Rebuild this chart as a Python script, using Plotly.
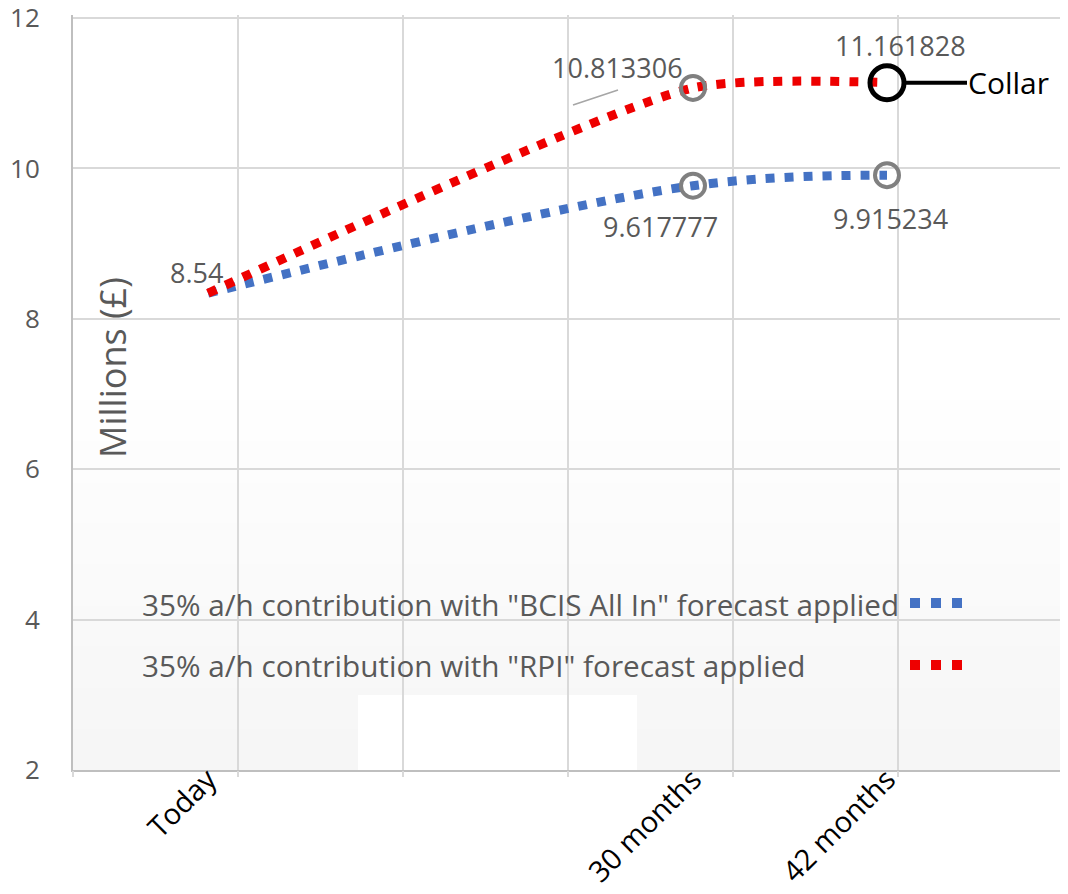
import plotly.graph_objects as go

# ---------------- data ----------------
months = [0, 30, 42]
tick_labels = ["Today", "30 months", "42 months"]
bcis_values = [8.34, 9.77, 9.91]
rpi_values = [8.34, 11.07, 11.14]
bcis_labels = ["", "9.617777", "9.915234"]
rpi_labels = ["8.54", "10.813306", "11.161828"]
bcis_name = '35% a/h contribution with "BCIS All In" forecast applied'
rpi_name = '35% a/h contribution with "RPI" forecast applied'

BLUE = "#4472C4"
RED = "#EE0000"
GREY_TXT = "#595959"
GRID = "#d9d9d9"
FONT = "Open Sans"

# page body has an 8px margin; work in screen pixels and convert
OFF = 8
W, H = 1068 - OFF, 894 - OFF
SL, SR, ST, SB = 73, 1066, 15, 770          # plot area edges on screen
PW = SR - SL
PH = SB - ST
L = SL - OFF
T = ST - OFF
R = W - (SR - OFF)
B = H - (SB - OFF)


def px_x(sx):
    return (sx - SL) / PW


def px_y(sy):
    return (SB - sy) / PH


fig = go.Figure()

# invisible trace that carries the category grid axis
fig.add_trace(go.Scatter(x=[], y=[], xaxis="x2", yaxis="y", showlegend=False, hoverinfo="skip"))

fig.add_trace(go.Scatter(
    x=months, y=bcis_values, mode="lines", name=bcis_name, showlegend=False,
    line=dict(color=BLUE, width=9, dash="9px,10px", shape="spline", smoothing=1.0),
))
fig.add_trace(go.Scatter(
    x=months, y=rpi_values, mode="lines", name=rpi_name, showlegend=False,
    line=dict(color=RED, width=9, dash="9px,10px", shape="spline", smoothing=0.6),
))
# highlight rings
fig.add_trace(go.Scatter(
    x=months[1:], y=bcis_values[1:], mode="markers", showlegend=False, hoverinfo="skip",
    marker=dict(symbol="circle-open", size=[24, 24], color="#808080", opacity=1,
                line=dict(width=4, color="#808080")),
))
fig.add_trace(go.Scatter(
    x=months[1:], y=rpi_values[1:], mode="markers", showlegend=False, hoverinfo="skip",
    marker=dict(symbol="circle-open", size=[24, 34], color=["#808080", "#000000"], opacity=1,
                line=dict(width=[4, 5], color=["#808080", "#000000"])),
))

annotations = []
# data labels (offsets in px)
rpi_off = [(-12, 21), (-76, 20), (13, 37)]
bcis_off = [(0, 0), (-33, -41), (3, -43)]
for xv, yv, txt, (dx, dy) in zip(months, rpi_values, rpi_labels, rpi_off):
    if txt:
        annotations.append(dict(x=xv, y=yv, xref="x", yref="y", text=txt, showarrow=False,
                                xshift=dx, yshift=dy, font=dict(family=FONT, size=27, color=GREY_TXT)))
for xv, yv, txt, (dx, dy) in zip(months, bcis_values, bcis_labels, bcis_off):
    if txt:
        annotations.append(dict(x=xv, y=yv, xref="x", yref="y", text=txt, showarrow=False,
                                xshift=dx, yshift=dy, font=dict(family=FONT, size=27, color=GREY_TXT)))

# Collar callout
annotations.append(dict(x=months[2], y=rpi_values[2], xref="x", yref="y", text="Collar",
                        showarrow=True, arrowhead=0, arrowwidth=4, arrowcolor="#000000",
                        ax=121, ay=0, standoff=19, borderpad=0,
                        font=dict(family=FONT, size=30, color="#000000")))

# y-axis title inside the plot
annotations.append(dict(x=px_x(112), y=px_y(368), xref="paper", yref="paper", text="Millions (£)",
                        textangle=-90, showarrow=False, xanchor="center", yanchor="middle",
                        font=dict(family=FONT, size=36, color=GREY_TXT)))

# custom legend (text left, symbol right)
for name, ypx in [(bcis_name, 604), (rpi_name, 665)]:
    annotations.append(dict(x=px_x(140), y=px_y(ypx), xref="paper", yref="paper", text=name,
                            xanchor="left", yanchor="middle", showarrow=False,
                            font=dict(family=FONT, size=29.7, color=GREY_TXT)))

shapes = []
# soft background gradient in lower part of plot
bands = ["#fefefe", "#fdfdfd", "#fcfcfc", "#fbfbfb", "#fafafa", "#f9f9f9", "#f8f8f8", "#f7f7f7", "#f6f6f6"]
n = len(bands)
top_px, bot_px = 400, 770
for i, c in enumerate(bands):
    y0 = top_px + (bot_px - top_px) * i / n
    shapes.append(dict(type="rect", xref="paper", yref="paper", x0=0, x1=1,
                       y0=px_y(y0), y1=px_y(bot_px), fillcolor=c, line=dict(width=0), layer="below"))
shapes.append(dict(type="rect", xref="paper", yref="paper", x0=px_x(358), x1=px_x(637),
                   y0=px_y(770), y1=px_y(695), fillcolor="#ffffff", line=dict(width=0), layer="below"))
# leader line of the 10.813306 label
shapes.append(dict(type="line", xref="paper", yref="paper", x0=px_x(573), y0=px_y(105),
                   x1=px_x(618), y1=px_y(90), line=dict(color="#a6a6a6", width=1.5), layer="below"))
# legend symbols
for col, ypx in [(BLUE, 603), (RED, 665)]:
    shapes.append(dict(type="line", xref="paper", yref="paper", x0=px_x(910), x1=px_x(965),
                       y0=px_y(ypx), y1=px_y(ypx), line=dict(color=col, width=10, dash="10px,11px")))

# x range so that Today -> 208px and 30 months -> 693px on screen
ppm = (693 - 208) / 30.0
x0 = -(208 - SL) / ppm
x1 = x0 + PW / ppm
grid_cell = (1063 - SL) / 6.0          # category grid spacing in px
ppu = (SB - 18) / 10.0                 # px per million (2 -> 770, 12 -> 18)

fig.update_layout(
    width=W, height=H,
    margin=dict(l=L, r=R, t=T, b=B, pad=0),
    paper_bgcolor="#ffffff", plot_bgcolor="#ffffff",
    showlegend=False,
    font=dict(family=FONT, color=GREY_TXT),
    xaxis=dict(range=[x0, x1], tickmode="array", tickvals=months, ticktext=tick_labels,
               tickangle=-45, showgrid=False, zeroline=False, showline=True, automargin=False,
               linecolor="#bfbfbf", linewidth=2, ticks="", ticklabelstandoff=-21,
               ticklabeloverflow="allow",
               tickfont=dict(family=FONT, size=29, color="#000000")),
    xaxis2=dict(range=[0, PW / grid_cell], dtick=1, tick0=0, overlaying="x", anchor="y",
                side="bottom", showgrid=True, gridcolor=GRID, gridwidth=2, showticklabels=False,
                automargin=False, ticks="outside", ticklen=6, tickcolor=GRID, tickwidth=2,
                zeroline=False, showline=False),
    yaxis=dict(range=[2, 2 + PH / ppu], dtick=2, tick0=2, showgrid=True, gridcolor=GRID,
               gridwidth=2, zeroline=False, showline=True, linecolor="#bfbfbf", linewidth=2,
               ticks="", automargin=False, ticklabelstandoff=26, ticklabeloverflow="allow",
               tickfont=dict(family=FONT, size=26, color=GREY_TXT)),
    annotations=annotations,
    shapes=shapes,
)

fig.write_html("out.html")
